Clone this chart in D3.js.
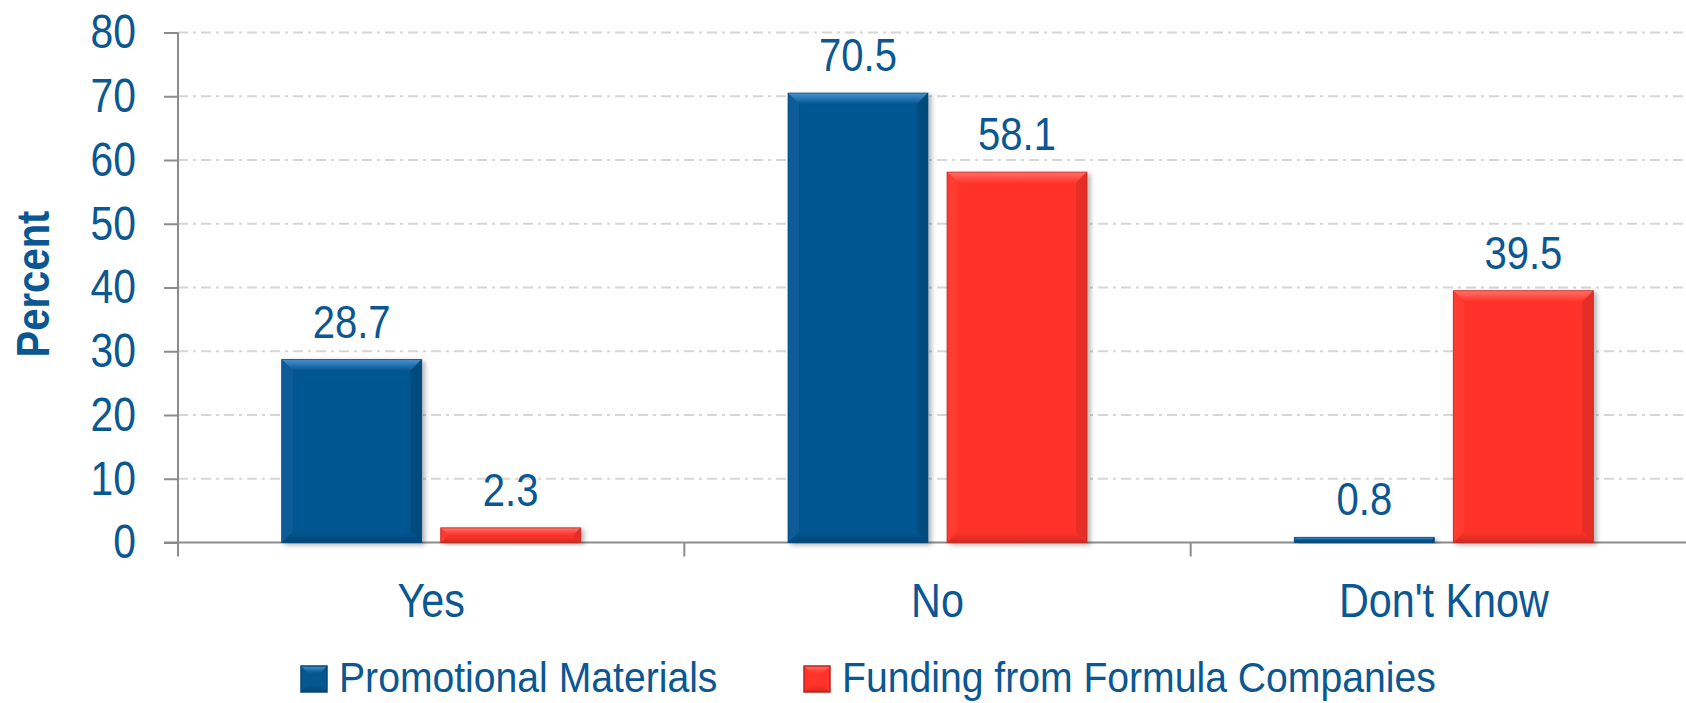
<!DOCTYPE html>
<html>
<head>
<meta charset="utf-8">
<script src="https://cdn.jsdelivr.net/npm/d3@7/dist/d3.min.js"></script>
<style>
html,body{margin:0;padding:0;background:#fff;}
svg{display:block;}
text{font-family:"Liberation Sans",Arial,sans-serif;fill:#0A5792;}
</style>
</head>
<body>
<svg id="chart" width="1686" height="703"></svg>
<script>
const categories = ["Yes", "No", "Don't Know"];
const seriesNames = ["Promotional Materials", "Funding from Formula Companies"];
const promotional = [28.7, 70.5, 0.8];
const funding = [2.3, 58.1, 39.5];
const yTicks = [0, 10, 20, 30, 40, 50, 60, 70, 80];

const W = 1686, H = 703;
const FONT = '"Liberation Sans",Arial,sans-serif';
const svg = d3.select("#chart");
const defs = svg.append("defs");
const f = defs.append("filter").attr("id","shadow").attr("x","-10%").attr("y","-10%").attr("width","130%").attr("height","130%");
f.append("feDropShadow").attr("dx",3).attr("dy",2).attr("stdDeviation",2.5).attr("flood-color","#000").attr("flood-opacity",0.3);

const colors = {
  "Promotional Materials": {base:"#065690", top:"#4793D0", bottom:"#044677", left:"#0A5C98", right:"#054B7E", stroke:"#04467A"},
  "Funding from Formula Companies": {base:"#FF3329", top:"#FF7068", bottom:"#D42A22", left:"#FF3A30", right:"#E52D25", stroke:"#B8241D"}
};
seriesNames.forEach((s,i)=>{
  const g = defs.append("linearGradient").attr("id","topg"+i).attr("x1",0).attr("y1",0).attr("x2",0).attr("y2",1);
  g.append("stop").attr("offset","0%").attr("stop-color",colors[s].top);
  g.append("stop").attr("offset","100%").attr("stop-color",colors[s].base);
  const b = defs.append("linearGradient").attr("id","botg"+i).attr("x1",0).attr("y1",0).attr("x2",0).attr("y2",1);
  b.append("stop").attr("offset","0%").attr("stop-color",colors[s].base);
  b.append("stop").attr("offset","100%").attr("stop-color",colors[s].bottom);
});

// condense text to mimic a narrow face
function condense(sel, ratio){
  sel.each(function(){
    const w = this.getComputedTextLength();
    if (w > 0) d3.select(this).attr("textLength", w*ratio).attr("lengthAdjust","spacingAndGlyphs");
  });
}

const plotLeft = 178, plotRight = 1697;
const y = d3.scaleLinear().domain([0, 80]).range([542.5, 32.5]);
const x0 = d3.scaleBand().domain(categories).range([plotLeft, plotRight]).paddingInner(0).paddingOuter(0);
const x1 = d3.scaleBand().domain(seriesNames).range([0, x0.bandwidth()]).paddingInner(0.12).paddingOuter(0.652);

// gridlines
svg.append("g").selectAll("line").data(yTicks.filter(d=>d>0)).join("line")
  .attr("x1", plotLeft).attr("x2", W)
  .attr("y1", d=>y(d)).attr("y2", d=>y(d))
  .attr("stroke", "#D6D6D6").attr("stroke-width", 2)
  .attr("stroke-dasharray", "10,5,3,5");

// y axis
const yAxis = d3.axisLeft(y).tickValues(yTicks).tickSize(14).tickPadding(28).tickFormat(d3.format("d"));
const gy = svg.append("g").attr("transform", `translate(${plotLeft},0)`).call(yAxis);
gy.select(".domain").remove();
gy.selectAll(".tick line").attr("stroke", "#8C8C8C").attr("stroke-width", 2);
gy.selectAll(".tick text").attr("font-size", 48).attr("fill", "#0A5792").style("font-family", FONT);
condense(gy.selectAll(".tick text"), 0.85);
svg.append("line").attr("x1", plotLeft).attr("x2", plotLeft).attr("y1", y(80)).attr("y2", y(0) + 14)
  .attr("stroke", "#8C8C8C").attr("stroke-width", 2);

// x axis
const xAxis = d3.axisBottom(x0).tickSize(0).tickPadding(0).tickFormat(d=>d);
const gx = svg.append("g").attr("transform", `translate(0,${y(0)})`).call(xAxis);
gx.select(".domain").remove();
gx.selectAll(".tick text").attr("font-size", 48).attr("fill", "#0A5792").attr("dy", null).attr("y", 74)
  .style("font-family", FONT);
condense(gx.selectAll(".tick text"), 0.86);
svg.append("line").attr("x1", plotLeft - 14).attr("x2", W).attr("y1", y(0)).attr("y2", y(0))
  .attr("stroke", "#8C8C8C").attr("stroke-width", 2);
svg.append("g").selectAll("line").data(categories.slice(1)).join("line")
  .attr("x1", d=>x0(d)).attr("x2", d=>x0(d)).attr("y1", y(0)).attr("y2", y(0)+14)
  .attr("stroke", "#8C8C8C").attr("stroke-width", 2);

// bevel bar drawing
function pts(a){ return a.map(p=>p.join(",")).join(" "); }
function bevelBar(g, bx, by, bw, bh, s, i){
  const c = colors[s];
  const bv = Math.min(11, bh/2, bw/2);
  const gg = g.append("g").attr("filter","url(#shadow)");
  gg.append("rect").attr("x",bx).attr("y",by).attr("width",bw).attr("height",bh).attr("fill",c.base);
  if (bh > 3) {
    gg.append("polygon").attr("points",pts([[bx,by],[bx+bw,by],[bx+bw-bv,by+bv],[bx+bv,by+bv]])).attr("fill","url(#topg"+i+")");
    gg.append("polygon").attr("points",pts([[bx,by+bh],[bx+bw,by+bh],[bx+bw-bv,by+bh-bv],[bx+bv,by+bh-bv]])).attr("fill","url(#botg"+i+")");
    gg.append("polygon").attr("points",pts([[bx,by],[bx+bv,by+bv],[bx+bv,by+bh-bv],[bx,by+bh]])).attr("fill",c.left);
    gg.append("polygon").attr("points",pts([[bx+bw,by],[bx+bw-bv,by+bv],[bx+bw-bv,by+bh-bv],[bx+bw,by+bh]])).attr("fill",c.right);
  }
  gg.append("rect").attr("x",bx).attr("y",by).attr("width",bw).attr("height",bh)
    .attr("fill","none").attr("stroke",c.stroke).attr("stroke-width",1).attr("stroke-opacity",0.7);
}

const seriesData = [promotional, funding];
const barsG = svg.append("g");
const labelsG = svg.append("g");
categories.forEach((cat, ci)=>{
  seriesNames.forEach((s, si)=>{
    const v = seriesData[si][ci];
    const bx = x0(cat) + x1(s);
    const by = y(v);
    const bh = y(0) - y(v);
    bevelBar(barsG, bx, by, x1.bandwidth(), bh, s, si);
    labelsG.append("text").attr("x", bx + x1.bandwidth()/2).attr("y", by - 22)
      .attr("text-anchor","middle").attr("font-size",46).text(d3.format(".1f")(v));
  });
});
condense(labelsG.selectAll("text"), 0.87);

// y title
const yt = svg.append("text").attr("transform", `translate(49,${284}) rotate(-90)`)
  .attr("text-anchor","middle").attr("font-size",46).attr("font-weight","bold").text("Percent");
condense(yt, 0.87);

// legend
const legendX = [301, 804];
seriesNames.forEach((s, i)=>{
  const lx = legendX[i];
  const lg = svg.append("g");
  const sw = 26, sy = 666;
  const c = colors[s];
  const bv = 7;
  lg.append("rect").attr("x",lx).attr("y",sy).attr("width",sw).attr("height",sw).attr("fill",c.base);
  lg.append("polygon").attr("points",pts([[lx,sy],[lx+sw,sy],[lx+sw-bv,sy+bv],[lx+bv,sy+bv]])).attr("fill","url(#topg"+i+")");
  lg.append("polygon").attr("points",pts([[lx,sy+sw],[lx+sw,sy+sw],[lx+sw-bv,sy+sw-bv],[lx+bv,sy+sw-bv]])).attr("fill","url(#botg"+i+")");
  lg.append("rect").attr("x",lx).attr("y",sy).attr("width",sw).attr("height",sw).attr("fill","none").attr("stroke",c.stroke).attr("stroke-width",1.5);
  const t = lg.append("text").attr("x", lx + 38).attr("y", 692).attr("font-size", 43).text(s);
  condense(t, 0.91);
});
</script>
</body>
</html>
